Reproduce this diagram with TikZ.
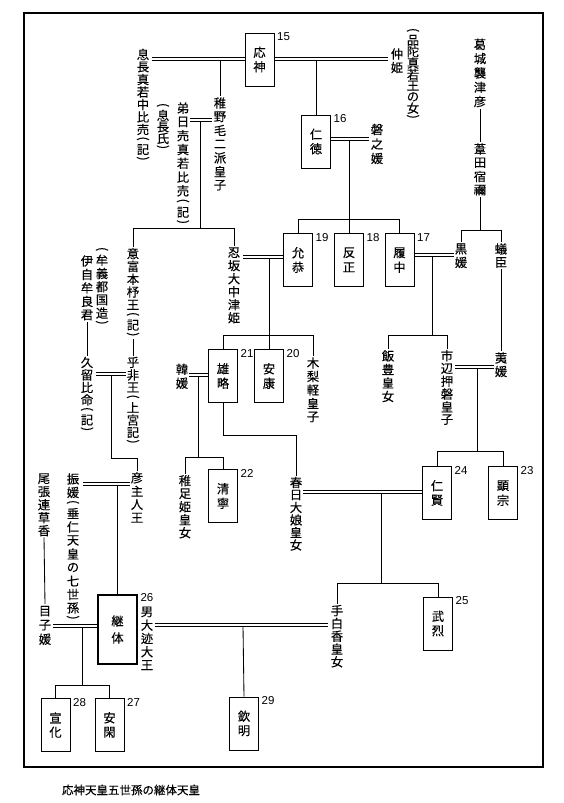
\documentclass[tikz,border=0pt]{standalone}
\usepackage{fontspec}
\usepackage{graphicx}
\setmainfont{Noto Sans CJK JP}[FakeBold=0.3]
\newfontfamily\numfont{Liberation Sans}
\usetikzlibrary{calc}
\makeatletter
\def\vt@end{\vt@end}
\def\vt@pp{7.5pt}
\def\vt@paren#1{\vbox to \vt@pp{\vss\hbox to 1em{\hss\rotatebox[origin=c]{-90}{#1}\hss}\vss}}
\def\vt@loop#1{%
  \ifx#1\vt@end\else
    \ifx#1(\vt@paren{(}\else
    \ifx#1)\vt@paren{)}\else
      \vbox to \vt@pitch{\vss\hbox to 1em{\hss#1\hss}\vss}%
    \fi\fi
    \expandafter\vt@loop
  \fi}
\newcommand\vt[2][13.2pt]{\vbox{\offinterlineskip\def\vt@pitch{#1}\vt@loop#2\vt@end}}
\makeatother
% marriage double line between two named coordinates
\newcommand\marr[2]{%
  \draw[ln] ([yshift=1.5pt]#1) -- ([yshift=1.5pt]#2);
  \draw[ln] ([yshift=-1.5pt]#1) -- ([yshift=-1.5pt]#2);}
\begin{document}
\begin{tikzpicture}[x=1pt,y=-1pt,
  every node/.style={inner sep=0pt, font=\fontsize{12.3}{12.3}\selectfont},
  tx/.style={anchor=north},
  emp/.style={draw, line width=0.9pt, minimum width=29pt, minimum height=53pt},
  num/.style={anchor=north west, font=\numfont\fontsize{11.5}{11.5}\selectfont},
  ln/.style={line width=0.85pt},
]
\useasboundingbox (0,0) rectangle (564,803);
\draw[line width=1.1pt] (24,13) rectangle (543,767);

% ---- emperor boxes
\node[emp] (ojin) at (259.5,59.5) {\vt[14.5pt]{応神}};
\node[emp] (nintoku) at (316,141.5) {\vt[14.5pt]{仁徳}};
\node[emp] (ingyo) at (298,260) {\vt[14.5pt]{允恭}};
\node[emp] (hanzei) at (349,260) {\vt[14.5pt]{反正}};
\node[emp] (richu) at (399.5,260) {\vt[14.5pt]{履中}};
\node[emp] (yuryaku) at (223,376) {\vt[14.5pt]{雄略}};
\node[emp] (anko) at (269,376) {\vt[14.5pt]{安康}};
\node[emp] (seinei) at (223,496) {\vt[14.5pt]{清寧}};
\node[emp] (ninken) at (437,493) {\vt[14.5pt]{仁賢}};
\node[emp] (kenzo) at (503,493) {\vt[14.5pt]{顕宗}};
\node[emp] (buretsu) at (438,623.5) {\vt[14.5pt]{武烈}};
\node[draw, line width=1.8pt, minimum width=39pt, minimum height=69pt] (keitai) at (117.5,629.5) {\vt[17pt]{継体}};
\node[emp] (senka) at (55.5,725) {\vt[14.5pt]{宣化}};
\node[emp] (ankan) at (109.5,725) {\vt[14.5pt]{安閑}};
\node[emp] (kinmei) at (244,723.5) {\vt[14.5pt]{欽明}};

% ---- numbers
\node[num] at ([xshift=2.5pt]ojin.north east) {15};
\node[num] at ([xshift=2.5pt]nintoku.north east) {16};
\node[num] at ([xshift=2.5pt]richu.north east) {17};
\node[num] at ([xshift=2.5pt]hanzei.north east) {18};
\node[num] at ([xshift=2.5pt]ingyo.north east) {19};
\node[num] at ([xshift=2.5pt]anko.north east) {20};
\node[num] at ([xshift=2.5pt]yuryaku.north east) {21};
\node[num] at ([xshift=2.5pt]seinei.north east) {22};
\node[num] at ([xshift=2.5pt]kenzo.north east) {23};
\node[num] at ([xshift=2.5pt]ninken.north east) {24};
\node[num] at ([xshift=2.5pt]buretsu.north east) {25};
\node[num] at ([xshift=2.5pt,yshift=1pt]keitai.north east) {26};
\node[num] at ([xshift=2.5pt]ankan.north east) {27};
\node[num] at ([xshift=2.5pt]senka.north east) {28};
\node[num] at ([xshift=2.5pt]kinmei.north east) {29};

% ---- vertical names
\node[tx] (okinaga) at (143,48) {\vt[12.5pt]{息長真若中比売(記)}};
\node[tx] (hondawaka) at (413,27) {\vt[11.3pt]{(品陀真若王の女)}};
\node[tx] (nakatsu) at (397,47) {\vt[13.5pt]{仲姫}};
\node[tx] (wakanuke) at (220,96) {\vt[13.7pt]{稚野毛二派皇子}};
\node[tx] (okinagashi) at (163,102) {\vt[11.5pt]{(息長氏)}};
\node[tx] (otohi) at (183,101) {\vt[13.8pt]{弟日売真若比売(記)}};
\node[tx] (iwanohime) at (377,122) {\vt[14.5pt]{磐之媛}};
\node[tx] (katsuragi) at (480,37) {\vt[14.3pt]{葛城襲津彦}};
\node[tx] (ashida) at (480,142) {\vt[13.7pt]{葦田宿禰}};
\node[tx] (kurohime) at (461,242) {\vt[13.5pt]{黒媛}};
\node[tx] (arioomi) at (501,242) {\vt[13.5pt]{蟻臣}};
\node[tx] (ofuho) at (133,247) {\vt[12.8pt]{意富本杼王(記)}};
\node[tx] (ohi) at (133,356) {\vt[12.5pt]{乎非王(上宮記)}};
\node[tx] (ijimura) at (87,254) {\vt[13.5pt]{伊自牟良君}};
\node[tx] (mugetsu) at (102,246) {\vt[13.2pt]{(牟義都国造)}};
\node[tx] (kuruhi) at (87,356) {\vt[12.5pt]{久留比命(記)}};
\node[tx] (osaka) at (234,246) {\vt[13pt]{忍坂大中津姫}};
\node[tx] (karahime) at (182,362) {\vt[14pt]{韓媛}};
\node[tx] (kinashi) at (313,356) {\vt[13.5pt]{木梨軽皇子}};
\node[tx] (iitoyo) at (388,349) {\vt[13.5pt]{飯豊皇女}};
\node[tx] (ichinobe) at (447,349) {\vt[12.8pt]{市辺押磐皇子}};
\node[tx] (haehime) at (501,351) {\vt[13.5pt]{荑媛}};
\node[tx] (hikoushi) at (137,471) {\vt[13.3pt]{彦主人王}};
\node[tx] (furuhime) at (73,472) {\vt[13.5pt]{振媛(垂仁天皇の七世孫)}};
\node[tx] (owari) at (44,472) {\vt[13pt]{尾張連草香}};
\node[tx] (menoko) at (45,604) {\vt[14pt]{目子媛}};
\node[tx] (ohodo) at (147,605) {\vt[13.3pt]{男大迹大王}};
\node[tx] (wakatarashi) at (185,474) {\vt[13pt]{稚足姫皇女}};
\node[tx] (kasuga) at (296,476) {\vt[12.5pt]{春日大娘皇女}};
\node[tx] (tashiraka) at (337,604) {\vt[12.8pt]{手白香皇女}};

% ---- caption
\node (cap) at (131,790) {\fontsize{11.5}{11.5}\selectfont 応神天皇五世孫の継体天皇};

% ---- junction points (centre of each double line)
\coordinate (m1) at (220,58.5);
\coordinate (m2) at (316,58.5);
\coordinate (m3) at (349,139);
\coordinate (m4) at (200,120);
\coordinate (m5) at (269,256.5);
\coordinate (m6) at (432,254.5);
\coordinate (m7) at (477,366.5);
\coordinate (m8) at (111,373.5);
\coordinate (m9) at (198,374.5);
\coordinate (m10) at (381,491.5);
\coordinate (m11) at (117.5,483.5);
\coordinate (m12) at (82,625.5);
\coordinate (m13) at (243,624.5);

% ---- double-line end points
\coordinate (a1) at ($(okinaga.east |- m1)+(3,0)$);   \coordinate (b1) at (ojin.west |- m1);
\coordinate (a2) at (ojin.east |- m2);                 \coordinate (b2) at ($(nakatsu.west |- m2)+(-3,0)$);
\coordinate (a3) at (nintoku.east |- m3);              \coordinate (b3) at ($(iwanohime.west |- m3)+(-2,0)$);
\coordinate (a4) at ($(otohi.east |- m4)+(1,0)$);     \coordinate (b4) at ($(wakanuke.west |- m4)+(-2,0)$);
\coordinate (a5) at ($(osaka.east |- m5)+(3,0)$);     \coordinate (b5) at (ingyo.west |- m5);
\coordinate (a6) at (richu.east |- m6);                \coordinate (b6) at ($(kurohime.west |- m6)+(-1,0)$);
\coordinate (a7) at ($(ichinobe.east |- m7)+(2,0)$);  \coordinate (b7) at ($(haehime.west |- m7)+(-1,0)$);
\coordinate (a8) at ($(kuruhi.east |- m8)+(3,0)$);    \coordinate (b8) at ($(ohi.west |- m8)+(-1,0)$);
\coordinate (a9) at ($(karahime.east |- m9)+(1,0)$);  \coordinate (b9) at (yuryaku.west |- m9);
\coordinate (a10) at ($(kasuga.east |- m10)+(1,0)$);  \coordinate (b10) at (ninken.west |- m10);
\coordinate (a11) at ($(furuhime.east |- m11)+(4,0)$);\coordinate (b11) at ($(hikoushi.west |- m11)+(-1,0)$);
\coordinate (a12) at ($(menoko.east |- m12)+(2,0)$);  \coordinate (b12) at (keitai.west |- m12);
\coordinate (a13) at ($(ohodo.east |- m13)+(2,0)$);   \coordinate (b13) at ($(tashiraka.west |- m13)+(-3,0)$);

\marr{a1}{b1}   \marr{a2}{b2}   \marr{a3}{b3}   \marr{a4}{b4}
\marr{a5}{b5}   \marr{a6}{b6}   \marr{a7}{b7}   \marr{a8}{b8}
\marr{a9}{b9}   \marr{a10}{b10} \marr{a11}{b11} \marr{a12}{b12}
\marr{a13}{b13}

% ---- single lines (children hang from the lower rail)
\draw[ln] ([yshift=-1.5pt]m1) -- (wakanuke.north);
\draw[ln] ([yshift=-1.5pt]m2) -- (nintoku.north);
\draw[ln] ([yshift=-1.5pt]m3) -- (hanzei.north);
\draw[ln] (ingyo.north) -- ++(0,-14) -| (richu.north);
\draw[ln] ([yshift=-1.5pt]m4) -- (200,228);
\draw[ln] (ofuho.north) -- ++(0,-19) -| (osaka.north);
\draw[ln] ([yshift=-1.5pt]m5) -- (anko.north);
\draw[ln] (yuryaku.north) -- ++(0,-14) -| (kinashi.north);
\draw[ln] ([yshift=-1.5pt]m6) -- (432,335);
\draw[ln] (iitoyo.north) -- ++(0,-14) -| (ichinobe.north);
\draw[ln] (katsuragi.south) -- (ashida.north);
\draw[ln] (ashida.south) -- (480,230);
\draw[ln] (kurohime.north) -- ++(0,-12) -| (arioomi.north);
\draw[ln] (arioomi.south) -- (haehime.north);
\draw[ln] ([yshift=-1.5pt]m7) -- (477,452);
\draw[ln] (ninken.north) -- ++(0,-15) -| (kenzo.north);
\draw[ln] (ijimura.south) -- (kuruhi.north);
\draw[ln] (ofuho.south) -- (ohi.north);
\draw[ln] ([yshift=-1.5pt]m8) -- (111,458) -| (hikoushi.north);
\draw[ln] ([yshift=-1.5pt]m9) -- (198,457);
\draw[ln] (wakatarashi.north) -- ++(0,-17) -| (seinei.north);
\draw[ln] (yuryaku.south) -- ++(0,32) -| (kasuga.north);
\draw[ln] ([yshift=-1.5pt]m10) -- (381,583);
\draw[ln] (tashiraka.north) -- ++(0,-21) -| (buretsu.north);
\draw[ln] ([yshift=-1.5pt]m11) -- (keitai.north);
\draw[ln] (owari.south) -- (menoko.north);
\draw[ln] ([yshift=-1.5pt]m12) -- (82,685);
\draw[ln] (senka.north) -- ++(0,-13) -| (ankan.north);
\draw[ln] ([yshift=-1.5pt]m13) -- (kinmei.north);
\end{tikzpicture}
\end{document}
